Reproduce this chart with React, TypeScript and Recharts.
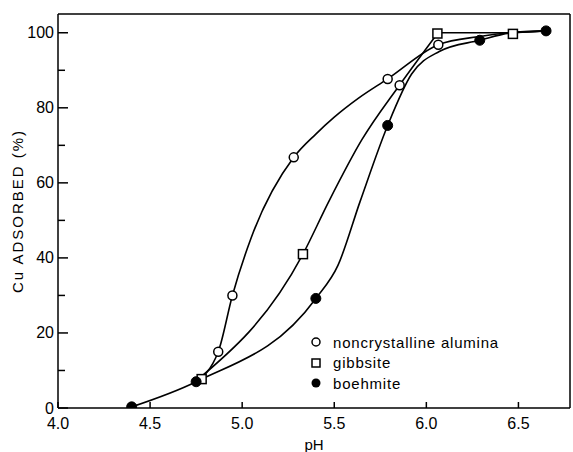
import React from 'react';
import { ComposedChart, Line, Scatter, XAxis, YAxis, ReferenceLine } from 'recharts';

// ---- data ----
const xTicks = [4.0, 4.5, 5.0, 5.5, 6.0, 6.5];
const yTicks = [0, 10, 20, 30, 40, 50, 60, 70, 80, 90, 100];
const yLabelTicks = [0, 20, 40, 60, 80, 100];
const legendLabels = ['noncrystalline alumina', 'gibbsite', 'boehmite'];

// measured points
const noncrystallinePts = [
  { x: 4.87, y: 15 },
  { x: 4.947, y: 30 },
  { x: 5.28, y: 66.8 },
  { x: 5.79, y: 87.7 },
  { x: 5.855, y: 86 },
  { x: 6.065, y: 96.8 },
];
const gibbsitePts = [
  { x: 4.78, y: 7.7 },
  { x: 5.33, y: 41 },
  { x: 6.06, y: 99.8 },
  { x: 6.47, y: 99.7 },
];
const boehmitePts = [
  { x: 4.4, y: 0.3 },
  { x: 4.75, y: 7 },
  { x: 5.4, y: 29.2 },
  { x: 5.79, y: 75.3 },
  { x: 6.29, y: 98 },
  { x: 6.65, y: 100.5 },
];

// fitted curves as drawn in the figure
const noncrystallineCurve = [
  { x: 4.745, y: 7 },
  { x: 4.87, y: 15 },
  { x: 4.947, y: 30 },
  { x: 5.05, y: 45.5 },
  { x: 5.28, y: 66.8 },
  { x: 5.4, y: 73 },
  { x: 5.5, y: 77.5 },
  { x: 5.63, y: 82.5 },
  { x: 5.79, y: 87.7 },
  { x: 6.065, y: 96.8 },
  { x: 6.29, y: 99 },
  { x: 6.45, y: 100 },
  { x: 6.65, y: 100.5 },
];
const gibbsiteCurve = [
  { x: 4.745, y: 7 },
  { x: 5.33, y: 41 },
  { x: 5.47, y: 55 },
  { x: 5.65, y: 71.5 },
  { x: 5.855, y: 86.1 },
  { x: 6.06, y: 99.8 },
];
const gibbsiteTop = [
  { x: 6.06, y: 100 },
  { x: 6.47, y: 100 },
  { x: 6.65, y: 100.5 },
];
const boehmiteCurve = [
  { x: 4.4, y: 0.3 },
  { x: 4.75, y: 7 },
  { x: 5.4, y: 29.2 },
  { x: 5.52, y: 38 },
  { x: 5.64, y: 55 },
  { x: 5.79, y: 75.3 },
  { x: 5.92, y: 89 },
  { x: 6.07, y: 95 },
  { x: 6.29, y: 98 },
  { x: 6.45, y: 99.9 },
  { x: 6.65, y: 100.5 },
];

const FONT = '"Liberation Sans", Arial, Helvetica, sans-serif';

const OpenCircle = (p: any) => (
  <circle cx={p.cx} cy={p.cy} r={4.5} fill="#fff" stroke="#000" strokeWidth={1.5} />
);
const OpenSquare = (p: any) => (
  <rect x={p.cx - 4.5} y={p.cy - 4.5} width={9} height={9} fill="#fff" stroke="#000" strokeWidth={1.5} />
);
const FilledCircle = (p: any) => (
  <circle cx={p.cx} cy={p.cy} r={5} fill="#000" stroke="#000" strokeWidth={1} />
);

const YTick = (props: any) => {
  const { x, y, payload } = props;
  const v = payload.value;
  const major = yLabelTicks.includes(v);
  return (
    <g>
      <line x1={x} y1={y} x2={x + (major ? 10 : 7)} y2={y} stroke="#000" strokeWidth={1.5} />
      {major && (
        <text x={x - 4} y={y} dy={5.5} textAnchor="end" fontSize={16} fontFamily={FONT} fill="#000">
          {v}
        </text>
      )}
    </g>
  );
};

const XTick = (props: any) => {
  const { x, y, payload } = props;
  return (
    <g>
      <line x1={x} y1={y} x2={x} y2={y - 6} stroke="#000" strokeWidth={1.5} />
      <text x={x} y={y + 21} textAnchor="middle" fontSize={16} fontFamily={FONT} fill="#000">
        {payload.value.toFixed(1)}
      </text>
    </g>
  );
};

const legendShapes = ['open', 'square', 'filled'];

export default function App() {
  return (
    <div style={{ position: 'absolute', left: 0, top: 0, width: 573, height: 452, background: '#fff' }}>
      <ComposedChart
        width={573}
        height={452}
        margin={{ top: 14, right: 3, left: 0, bottom: 0 }}
      >
        <XAxis
          dataKey="x"
          type="number"
          domain={[4, 6.78]}
          allowDataOverflow
          ticks={xTicks}
          height={44}
          tickSize={0}
          tickMargin={0}
          tickLine={false}
          axisLine={{ stroke: '#000', strokeWidth: 1.5 }}
          tick={<XTick />}
          interval={0}
          label={{ value: 'pH', position: 'insideBottom', offset: 2, fontSize: 15, fontFamily: FONT, fill: '#000' }}
        />
        <YAxis
          dataKey="y"
          type="number"
          domain={[0, 105]}
          allowDataOverflow
          ticks={yTicks}
          width={58}
          tickSize={0}
          tickMargin={0}
          tickLine={false}
          axisLine={{ stroke: '#000', strokeWidth: 1.5 }}
          tick={<YTick />}
          interval={0}
          label={{
            value: 'Cu ADSORBED (%)',
            angle: -90,
            position: 'insideLeft',
            offset: 18,
            fontSize: 15,
            fontFamily: FONT,
            fill: '#000',
            style: { textAnchor: 'middle', letterSpacing: 2 },
          }}
        />
        <ReferenceLine y={105} stroke="#000" strokeWidth={1.5} />
        <ReferenceLine x={6.78} stroke="#000" strokeWidth={1.5} />

        <Line data={noncrystallineCurve} dataKey="y" type="monotone" stroke="#000" strokeWidth={1.6} dot={false} isAnimationActive={false} />
        <Line data={gibbsiteCurve} dataKey="y" type="monotone" stroke="#000" strokeWidth={1.6} dot={false} isAnimationActive={false} />
        <Line data={gibbsiteTop} dataKey="y" type="linear" stroke="#000" strokeWidth={1.6} dot={false} isAnimationActive={false} />
        <Line data={boehmiteCurve} dataKey="y" type="monotone" stroke="#000" strokeWidth={1.6} dot={false} isAnimationActive={false} />

        <Scatter data={noncrystallinePts} dataKey="y" shape={OpenCircle} isAnimationActive={false} />
        <Scatter data={gibbsitePts} dataKey="y" shape={OpenSquare} isAnimationActive={false} />
        <Scatter data={boehmitePts} dataKey="y" shape={FilledCircle} isAnimationActive={false} />
      </ComposedChart>
      <div style={{ position: 'absolute', left: 309, top: 332, fontFamily: FONT, fontSize: 15, letterSpacing: 0.8, color: '#000' }}>
        {legendLabels.map((lab, i) => (
          <div key={lab} style={{ display: 'flex', alignItems: 'center', height: 20.5 }}>
            <svg width={14} height={14} style={{ marginRight: 10 }}>
              {legendShapes[i] === 'open' && <circle cx={7} cy={7} r={4} fill="#fff" stroke="#000" strokeWidth={1.5} />}
              {legendShapes[i] === 'square' && <rect x={3} y={3} width={8} height={8} fill="#fff" stroke="#000" strokeWidth={1.5} />}
              {legendShapes[i] === 'filled' && <circle cx={7} cy={7} r={4.5} fill="#000" />}
            </svg>
            <span>{lab}</span>
          </div>
        ))}
      </div>
    </div>
  );
}
